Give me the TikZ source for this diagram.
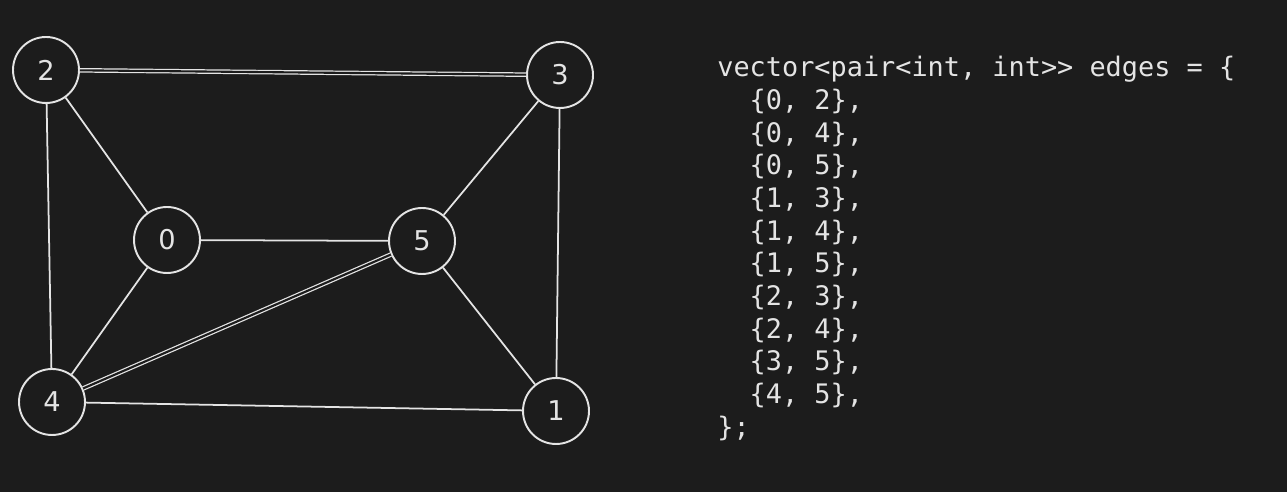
\documentclass[tikz,border=0pt]{standalone}
\usepackage{fontspec}
\setmonofont{DejaVu Sans Mono}
\newfontfamily\handfont{DejaVu Sans}
\usetikzlibrary{positioning}

\definecolor{boardbg}{RGB}{28,28,28}
\definecolor{chalk}{RGB}{228,228,228}
\newcommand{\codefont}{\ttfamily\fontsize{15.3}{17.2}\selectfont}

\begin{document}
\begin{tikzpicture}[
    x=0.02cm, y=-0.02cm,
    vertex/.style={draw=chalk, line width=1.1pt, circle, minimum size=1.32cm, inner sep=0pt, text=chalk, font=\handfont\fontsize{15.5}{17}\selectfont},
    edge/.style={draw=chalk, line width=1pt},
    twoline/.style={edge, double=boardbg, double distance=1.2pt, line width=0.7pt}
  ]
  \fill[boardbg] (0,0) rectangle (1287,492);
  \useasboundingbox (0,0) rectangle (1287,492);

  % graph
  \node[vertex] (v2) at (46,70) {2};
  \node[vertex] (v3) at (560,75) {3};
  \node[vertex] (v0) at (167,240) {0};
  \node[vertex] (v5) at (422,241) {5};
  \node[vertex] (v4) at (52,402) {4};
  \node[vertex] (v1) at (556,411) {1};

  \draw[twoline] (v2) -- (v3);
  \draw[edge] (v2) -- (v0);
  \draw[edge] (v2) -- (v4);
  \draw[edge] (v3) -- (v5);
  \draw[edge] (v3) -- (v1);
  \draw[edge] (v0) -- (v5);
  \draw[edge] (v0) -- (v4);
  \draw[twoline] (v5) -- (v4);
  \draw[edge] (v5) -- (v1);
  \draw[edge] (v4) -- (v1);

  % edge list
  \node[anchor=north west, inner sep=0pt, align=left, text=chalk, font=\codefont] (code) at (717,56)
  {vector<pair<int, int>> edges = \{\\[1.4pt]
  \ \ \{0, 2\},\\[1.4pt]
  \ \ \{0, 4\},\\[1.4pt]
  \ \ \{0, 5\},\\[1.4pt]
  \ \ \{1, 3\},\\[1.4pt]
  \ \ \{1, 4\},\\[1.4pt]
  \ \ \{1, 5\},\\[1.4pt]
  \ \ \{2, 3\},\\[1.4pt]
  \ \ \{2, 4\},\\[1.4pt]
  \ \ \{3, 5\},\\[1.4pt]
  \ \ \{4, 5\},\\[1.4pt]
  \};};
\end{tikzpicture}
\end{document}
